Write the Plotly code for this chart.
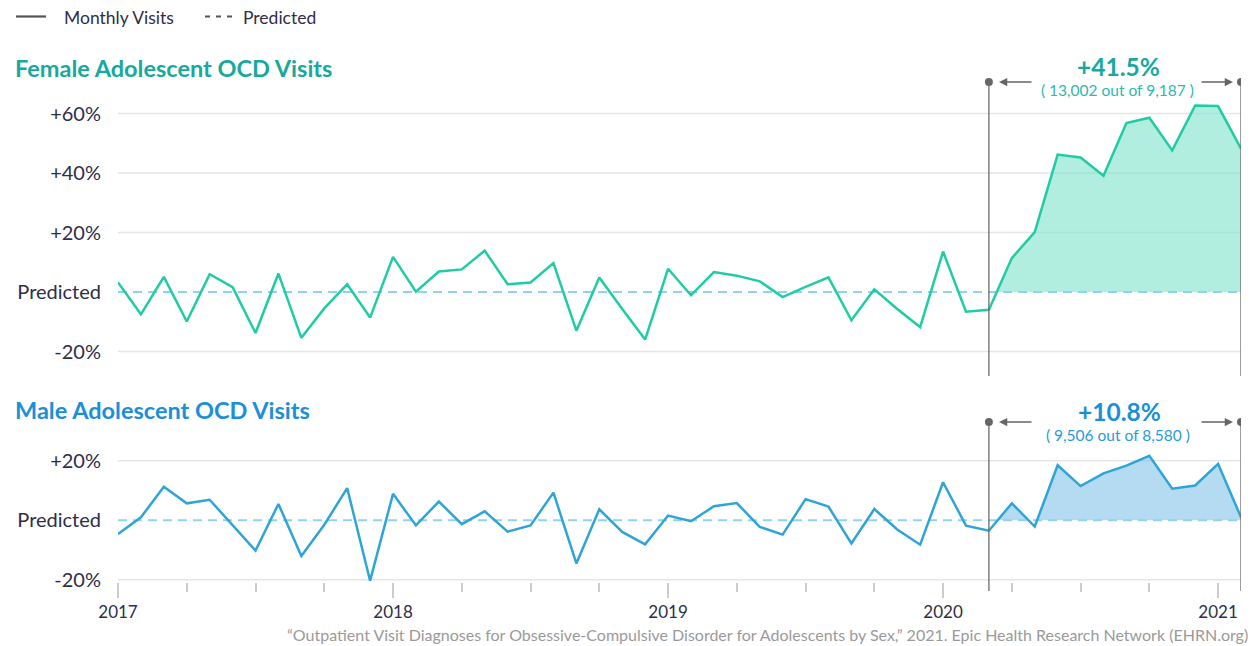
import plotly.graph_objects as go

# ---------------- data ----------------
months = [f"{y}-{m:02d}" for y in range(2017, 2022) for m in range(1, 13)][:50]

female_pct = [3.2, -7.5, 5.1, -9.9, 6.0, 1.6, -13.8, 6.2, -15.4, -5.5, 2.6, -8.6,
              11.8, 0.1, 6.9, 7.6, 13.9, 2.6, 3.2, 9.7, -13.0, 4.9, -5.7, -16.0,
              7.8, -1.1, 6.7, 5.5, 3.6, -1.7, 1.7, 4.9, -9.5, 0.9, -5.7, -11.8,
              13.6, -6.6, -6.0, 11.4, 20.1, 46.2, 45.2, 39.1, 56.8, 58.6, 47.6, 62.7,
              62.5, 48.2]

male_pct = [-4.6, 1.0, 11.3, 5.7, 6.9, -1.7, -10.2, 5.5, -12.0, -1.5, 10.8, -20.3,
            8.9, -1.7, 6.3, -1.3, 3.0, -3.8, -1.7, 9.3, -14.5, 3.7, -3.9, -8.1,
            1.6, -0.3, 4.7, 5.8, -2.2, -4.8, 7.1, 4.6, -7.8, 3.8, -3.1, -8.2,
            12.8, -1.8, -3.5, 5.7, -2.1, 18.5, 11.5, 15.8, 18.4, 21.7, 10.6, 11.7,
            19.0, 1.0]

year_ticks = [0, 12, 24, 36, 48]
year_labels = ["2017", "2018", "2019", "2020", "2021"]
minor_ticks = [i for i in range(0, 50, 3) if i not in year_ticks]

female_yticks = [-20, 0, 20, 40, 60]
female_ylabels = ["-20%", "Predicted", "+20%", "+40%", "+60%"]
male_yticks = [-20, 0, 20]
male_ylabels = ["-20%", "Predicted", "+20%"]

period_start = months.index("2020-03")
period_end = len(months) - 1

female_summary = ("+41.5%", "( 13,002 out of 9,187 )")
male_summary = ("+10.8%", "( 9,506 out of 8,580 )")

source = ("\u201cOutpatient Visit Diagnoses for Obsessive-Compulsive Disorder for Adolescents by Sex,\u201d "
          "2021. Epic Health Research Network (EHRN.org)")

# ---------------- style ----------------
PAGE_W, PAGE_H = 1257, 646
OFF = 8  # default body margin of the html page
W, H = PAGE_W - OFF, PAGE_H - OFF
FONT = "Lato"
DARK = "#2e2e4a"
GRID = "#e6e6e6"
PRED = "#8fd3ee"
F_LINE, F_FILL, F_TITLE = "#1fcca3", "rgba(120,225,200,0.58)", "#17a99d"
M_LINE, M_FILL, M_TITLE = "#2ea5d6", "rgba(120,190,232,0.55)", "#1b8fd8"


def px(x):
    return (x - OFF) / W


def py(y):
    return 1 - (y - OFF) / H


def positive_part(xs, vs):
    """Points of the positive part of a polyline (zero crossings inserted)."""
    out_x, out_y = [], []
    for i in range(len(xs)):
        if i > 0:
            v0, v1 = vs[i - 1], vs[i]
            if (v0 < 0 < v1) or (v1 < 0 < v0):
                t = v0 / (v0 - v1)
                out_x.append(xs[i - 1] + t * (xs[i] - xs[i - 1]))
                out_y.append(0)
        out_x.append(xs[i])
        out_y.append(max(vs[i], 0))
    return out_x, out_y


xi = list(range(len(months)))
fig = go.Figure()

panels = [
    (female_pct, "y2", F_LINE, F_FILL),
    (male_pct, "y", M_LINE, M_FILL),
]
for vals, yax, lc, fc in panels:
    sx = xi[period_start:period_end + 1]
    sv = vals[period_start:period_end + 1]
    fx, fy = positive_part(sx, sv)
    fig.add_trace(go.Scatter(x=fx, y=fy, yaxis=yax, mode="lines", line=dict(width=0),
                             fill="tozeroy", fillcolor=fc, hoverinfo="skip", showlegend=False))
    fig.add_trace(go.Scatter(x=[xi[0], xi[-1]], y=[0, 0], yaxis=yax, mode="lines",
                             line=dict(color=PRED, width=2, dash="9px,6px"),
                             hoverinfo="skip", showlegend=False))
    fig.add_trace(go.Scatter(x=xi, y=vals, yaxis=yax, mode="lines",
                             line=dict(color=lc, width=2.5), showlegend=False,
                             text=months, hovertemplate="%{text}: %{y:.1f}%<extra></extra>"))

shapes = []
# gridlines
for v in female_yticks:
    if v != 0:
        shapes.append(dict(type="line", xref="x domain", yref="y2", x0=0, x1=1, y0=v, y1=v,
                           line=dict(color=GRID, width=1.5), layer="below"))
for v in male_yticks:
    if v != 0:
        shapes.append(dict(type="line", xref="x domain", yref="y", x0=0, x1=1, y0=v, y1=v,
                           line=dict(color=GRID, width=1.5), layer="below"))

# period markers (vertical lines + dots)
for top_px, bot_px in [(82, 376), (422, 591)]:
    for xv in (period_start, period_end):
        shapes.append(dict(type="line", xref="x", yref="paper", x0=xv, x1=xv,
                           y0=py(bot_px), y1=py(top_px), line=dict(color="#6b6b6b", width=1.3)))
        shapes.append(dict(type="circle", xref="x", yref="paper", xsizemode="pixel", ysizemode="pixel",
                           xanchor=xv, yanchor=py(top_px), x0=-4, x1=4, y0=-4, y1=4,
                           fillcolor="#666", line=dict(width=0)))

# legend samples
shapes.append(dict(type="line", xref="paper", yref="paper", x0=px(16), x1=px(46), y0=py(16.5), y1=py(16.5),
                   line=dict(color="#555", width=2.2)))
shapes.append(dict(type="line", xref="paper", yref="paper", x0=px(205), x1=px(236), y0=py(16.5), y1=py(16.5),
                   line=dict(color="#555", width=2, dash="5px,6px")))

annotations = []


def text(x, y, s, size, color, bold=False, xanchor="left"):
    annotations.append(dict(xref="paper", yref="paper", x=px(x), y=py(y), text=(f"<b>{s}</b>" if bold else s),
                            showarrow=False, xanchor=xanchor, yanchor="middle",
                            font=dict(family=FONT, size=size, color=color)))


text(62, 17, "Monthly Visits", 17.5, DARK)
text(241, 17, "Predicted", 17.5, DARK)
text(13, 68, "Female Adolescent OCD Visits", 23.5, F_TITLE, bold=True)
text(13, 410, "Male Adolescent OCD Visits", 23.5, M_TITLE, bold=True)

text(1118, 67, female_summary[0], 24.5, F_TITLE, bold=True, xanchor="center")
text(1117, 90, female_summary[1], 15.5, "#2fb8ab", xanchor="center")
text(1119, 411, male_summary[0], 24.5, M_TITLE, bold=True, xanchor="center")
text(1118, 435, male_summary[1], 15.5, "#2a9ade", xanchor="center")

text(1250, 634, source, 16, "#9a9a9a", xanchor="right")

# arrows
for y_arrow in (82, 422):
    annotations.append(dict(xref="paper", yref="paper", x=px(999), y=py(y_arrow), ax=34, ay=0,
                            axref="pixel", ayref="pixel", text="", showarrow=True,
                            arrowhead=2, arrowsize=1.1, arrowwidth=1.5, arrowcolor="#666"))
    annotations.append(dict(xref="paper", yref="paper", x=px(1233), y=py(y_arrow), ax=-33, ay=0,
                            axref="pixel", ayref="pixel", text="", showarrow=True,
                            arrowhead=2, arrowsize=1.1, arrowwidth=1.5, arrowcolor="#666"))

xdom = [px(118), px(1241)]
fig.update_layout(
    width=W, height=H,
    margin=dict(l=0, r=0, t=0, b=0),
    paper_bgcolor="white", plot_bgcolor="white",
    showlegend=False,
    font=dict(family=FONT, color=DARK),
    xaxis=dict(domain=xdom, range=[0, len(months) - 1], anchor="y",
               tickmode="array", tickvals=year_ticks, ticktext=year_labels,
               ticks="outside", ticklen=15, tickwidth=1.5, tickcolor="#cccccc",
               minor=dict(tickvals=minor_ticks, ticks="outside", ticklen=9, tickwidth=1.5,
                          tickcolor="#cccccc", showgrid=False),
               showgrid=False, zeroline=False, showline=False,
               tickfont=dict(family=FONT, size=17, color=DARK), automargin=False),
    yaxis=dict(domain=[py(581.5), py(440)], range=[(520.3 - 581.5) / 2.975, (520.3 - 440) / 2.975],
               tickmode="array", tickvals=male_yticks, ticktext=male_ylabels,
               showgrid=False, zeroline=False, showline=False, ticks="",
               ticklabelstandoff=16,
               tickfont=dict(family=FONT, size=20, color=DARK), automargin=False),
    yaxis2=dict(domain=[py(376), py(95)], range=[(292 - 376) / 2.975, (292 - 95) / 2.975],
                anchor="x",
                tickmode="array", tickvals=female_yticks, ticktext=female_ylabels,
                showgrid=False, zeroline=False, showline=False, ticks="",
                ticklabelstandoff=16,
                tickfont=dict(family=FONT, size=20, color=DARK), automargin=False),
    shapes=shapes,
    annotations=annotations,
)

fig.write_html("out.html")
